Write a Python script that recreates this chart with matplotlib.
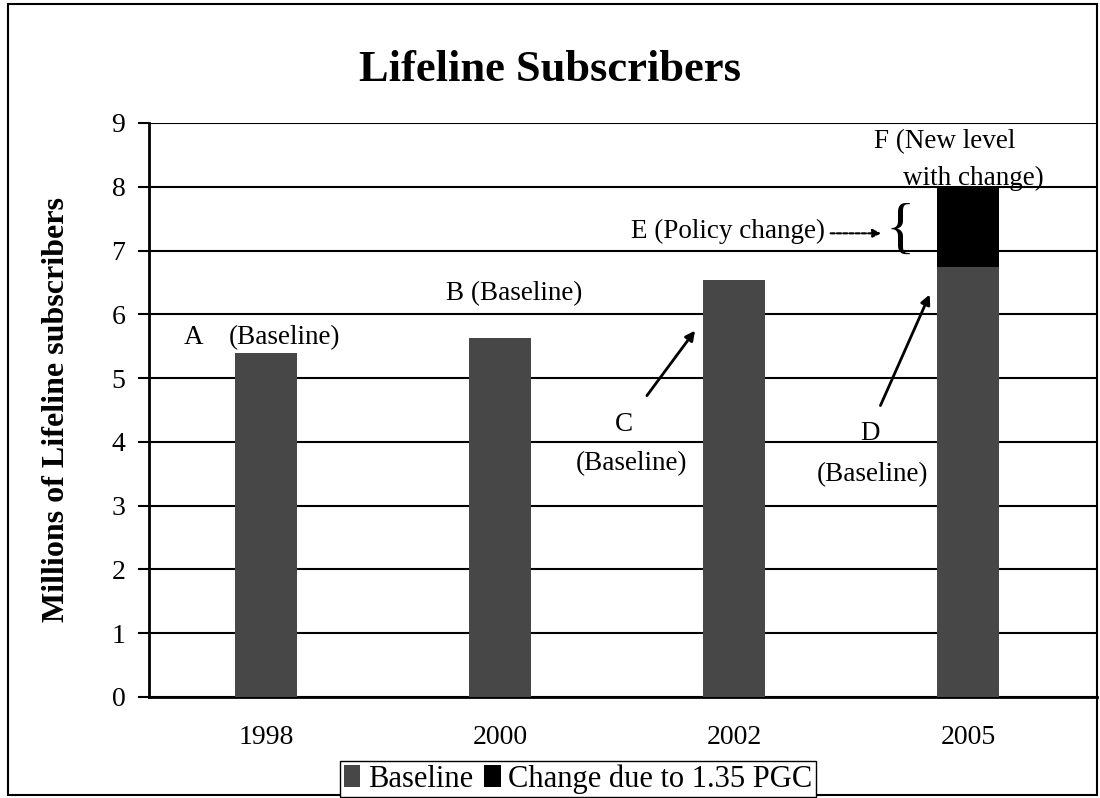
import numpy as np
import matplotlib
matplotlib.use("Agg")
import matplotlib.pyplot as plt
from matplotlib.patches import Rectangle

plt.rcParams['font.family'] = ['Liberation Serif', 'DejaVu Serif']

# data
years = ['1998', '2000', '2002', '2005']
baseline = [5.39, 5.63, 6.54, 6.74]
change = [0, 0, 0, 1.25]

fig = plt.figure(figsize=(11, 7.98), dpi=100)
ax = fig.add_axes([149 / 1100, 101 / 798, 948 / 1100, 574 / 798])

x = np.arange(len(years))
ax.bar(x, baseline, width=0.265, color='#474747', label='Baseline', zorder=3)
ax.bar(x[3:], change[3:], bottom=baseline[3:], width=0.265, color='black',
       label='Change due to 1.35 PGC', zorder=3)

ax.set_xlim(-0.5, 3.55)
ax.set_ylim(0, 9)
ax.set_yticks(range(10))
ax.set_xticks(x)
ax.set_xticklabels(years)
ax.tick_params(axis='y', labelsize=20, length=8, width=1.5, pad=9)
ax.tick_params(axis='x', labelsize=20, length=0, pad=20)
ax.yaxis.grid(True, color='black', linewidth=1.5, zorder=0)
ax.set_axisbelow(True)
for s in ['top', 'right']:
    ax.spines[s].set_visible(False)
ax.spines['left'].set_linewidth(2)
ax.spines['bottom'].set_linewidth(2)

ax.set_ylabel('Millions of Lifeline subscribers', fontsize=23, fontweight='bold', labelpad=29)
fig.text(0.5, 1 - 70 / 798, 'Lifeline Subscribers', ha='center', va='center',
         fontsize=32, fontweight='bold')

# annotations
fs = 19.5
ax.text(-0.31, 5.64, 'A', fontsize=fs, ha='center', va='center')
ax.text(0.08, 5.64, '(Baseline)', fontsize=fs, ha='center', va='center')
ax.text(1.06, 6.32, 'B (Baseline)', fontsize=fs, ha='center', va='center')
ax.text(1.53, 4.28, 'C', fontsize=fs, ha='center', va='center')
ax.text(1.56, 3.66, '(Baseline)', fontsize=fs, ha='center', va='center')
ax.text(2.58, 4.13, 'D', fontsize=fs, ha='center', va='center')
ax.text(2.59, 3.49, '(Baseline)', fontsize=fs, ha='center', va='center')
ax.text(2.39, 7.3, 'E (Policy change)', fontsize=fs, ha='right', va='center')
ax.text(2.90, 8.71, 'F (New level', fontsize=fs, ha='center', va='center')
ax.text(3.02, 8.13, 'with change)', fontsize=fs, ha='center', va='center')

ax.annotate('', xy=(1.84, 5.78), xytext=(1.62, 4.69),
            arrowprops=dict(arrowstyle='-|>', color='black', lw=2, mutation_scale=14))
ax.annotate('', xy=(2.84, 6.35), xytext=(2.62, 4.53),
            arrowprops=dict(arrowstyle='-|>', color='black', lw=2, mutation_scale=14))
ax.annotate('', xy=(2.64, 7.27), xytext=(2.40, 7.27),
            arrowprops=dict(arrowstyle='-|>', color='black', lw=1.5, linestyle=(0, (2, 1)),
                            mutation_scale=12))
ax.text(2.71, 7.29, '{', fontsize=44, ha='center', va='center', fontweight='light')

fig.legend(loc='center', bbox_to_anchor=(578 / 1100, 1 - 779 / 798), ncol=2,
           fontsize=22, frameon=True, fancybox=False, edgecolor='black',
           handlelength=0.55, handleheight=0.7, handletextpad=0.25, columnspacing=0.35,
           borderpad=0.1, borderaxespad=0, framealpha=1)

fig.patches.append(Rectangle((8 / 1100, 3 / 798), 1089 / 1100, 791 / 798, fill=False,
                             edgecolor='black', linewidth=1.5, transform=fig.transFigure))

fig.savefig('out.png', dpi=100)
